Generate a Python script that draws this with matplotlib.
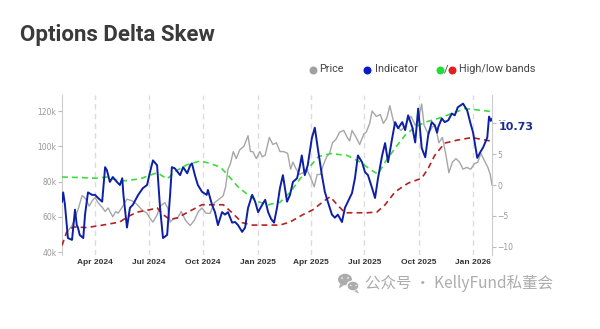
import pandas as pd
import matplotlib
matplotlib.use("Agg")
import matplotlib.pyplot as plt
import matplotlib.dates as mdates
from matplotlib.patches import Ellipse, Polygon
from matplotlib.ticker import FuncFormatter

# BTC price (left axis, USD)
price_dates = [
    "2024-02-15", "2024-02-22", "2024-02-29", "2024-03-04", "2024-03-10", "2024-03-14", "2024-03-18",
    "2024-03-22", "2024-03-27", "2024-04-01", "2024-04-06", "2024-04-14", "2024-04-18", "2024-04-23",
    "2024-05-01", "2024-05-06", "2024-05-10", "2024-05-18", "2024-05-25", "2024-06-03", "2024-06-11",
    "2024-06-19", "2024-06-28", "2024-07-03", "2024-07-08", "2024-07-15", "2024-07-20", "2024-07-28",
    "2024-08-02", "2024-08-06", "2024-08-12", "2024-08-18", "2024-08-25", "2024-09-01", "2024-09-09",
    "2024-09-16", "2024-09-23", "2024-09-29", "2024-10-06", "2024-10-13", "2024-10-20", "2024-10-28",
    "2024-11-04", "2024-11-08", "2024-11-12", "2024-11-16", "2024-11-21", "2024-11-26", "2024-12-02",
    "2024-12-09", "2024-12-16", "2024-12-20", "2024-12-24", "2024-12-30", "2025-01-05", "2025-01-09",
    "2025-01-14", "2025-01-21", "2025-01-27", "2025-02-02", "2025-02-08", "2025-02-14", "2025-02-21",
    "2025-02-26", "2025-03-02", "2025-03-06", "2025-03-13", "2025-03-19", "2025-03-25", "2025-03-31",
    "2025-04-07", "2025-04-12", "2025-04-18", "2025-04-22", "2025-04-28", "2025-05-03", "2025-05-08",
    "2025-05-14", "2025-05-20", "2025-05-27", "2025-06-02", "2025-06-06", "2025-06-10", "2025-06-17",
    "2025-06-23", "2025-06-30", "2025-07-04", "2025-07-10", "2025-07-14", "2025-07-21", "2025-07-28",
    "2025-08-02", "2025-08-08", "2025-08-13", "2025-08-20", "2025-08-26", "2025-09-01", "2025-09-07",
    "2025-09-13", "2025-09-18", "2025-09-25", "2025-09-30", "2025-10-06", "2025-10-10", "2025-10-17",
    "2025-10-24", "2025-10-29", "2025-11-04", "2025-11-10", "2025-11-16", "2025-11-21", "2025-11-27",
    "2025-12-03", "2025-12-09", "2025-12-15", "2025-12-21", "2025-12-28", "2026-01-03", "2026-01-09",
    "2026-01-14", "2026-01-20", "2026-01-26", "2026-01-30", "2026-02-02",
]
price_values = [
    52000, 55000, 61000, 65000, 72000, 71000, 69000,
    66000, 69000, 71000, 68000, 65000, 63000, 65000,
    60000, 63000, 62000, 66000, 70000, 69000, 67000,
    64000, 62000, 59000, 57000, 61000, 66000, 68000,
    65000, 57000, 59000, 59000, 63000, 58000, 55000,
    58000, 63000, 65000, 62000, 62000, 68000, 70000,
    72000, 77000, 87000, 90000, 97000, 93000, 98000,
    100000, 106000, 97000, 97000, 93000, 97000, 94000,
    95000, 105000, 101000, 102000, 97000, 97000, 96000,
    87000, 91000, 88000, 84000, 85000, 87000, 83000,
    77000, 84000, 84000, 89000, 94000, 96000, 102000,
    104000, 108000, 109000, 105000, 103000, 109000, 105000,
    101000, 107000, 108000, 113000, 120000, 117000, 118000,
    113000, 116000, 123000, 113000, 111000, 109000, 111000,
    115000, 117000, 112000, 114000, 124000, 112000, 107000,
    111000, 112000, 102000, 105000, 95000, 85000, 91000,
    93000, 91000, 87000, 88000, 87000, 90000, 91000,
    96000, 92000, 88000, 84000, 78000,
]

# delta skew indicator (right axis)
indicator_dates = [
    "2024-02-05", "2024-02-07", "2024-02-10", "2024-02-15", "2024-02-22", "2024-02-27", "2024-03-01",
    "2024-03-03", "2024-03-06", "2024-03-12", "2024-03-15", "2024-03-20", "2024-03-27", "2024-04-01",
    "2024-04-06", "2024-04-13", "2024-04-18", "2024-04-21", "2024-04-26", "2024-05-01", "2024-05-08",
    "2024-05-13", "2024-05-17", "2024-05-19", "2024-05-25", "2024-05-30", "2024-06-04", "2024-06-13",
    "2024-06-21", "2024-06-28", "2024-07-03", "2024-07-08", "2024-07-15", "2024-07-20", "2024-07-25",
    "2024-08-01", "2024-08-06", "2024-08-09", "2024-08-14", "2024-08-23", "2024-08-28", "2024-09-04",
    "2024-09-09", "2024-09-12", "2024-09-17", "2024-09-22", "2024-09-29", "2024-10-07", "2024-10-09",
    "2024-10-16", "2024-10-21", "2024-10-26", "2024-11-02", "2024-11-07", "2024-11-12", "2024-11-19",
    "2024-11-24", "2024-11-29", "2024-12-06", "2024-12-11", "2024-12-16", "2024-12-23", "2024-12-28",
    "2025-01-02", "2025-01-09", "2025-01-14", "2025-01-19", "2025-01-24", "2025-01-29", "2025-02-03",
    "2025-02-08", "2025-02-13", "2025-02-20", "2025-02-25", "2025-03-02", "2025-03-09", "2025-03-14",
    "2025-03-17", "2025-03-22", "2025-03-27", "2025-04-03", "2025-04-08", "2025-04-13", "2025-04-20",
    "2025-04-25", "2025-04-30", "2025-05-07", "2025-05-12", "2025-05-17", "2025-05-24", "2025-05-29",
    "2025-06-03", "2025-06-10", "2025-06-15", "2025-06-20", "2025-06-27", "2025-07-02", "2025-07-07",
    "2025-07-14", "2025-07-19", "2025-07-24", "2025-07-31", "2025-08-05", "2025-08-10", "2025-08-17",
    "2025-08-22", "2025-08-27", "2025-09-03", "2025-09-08", "2025-09-13", "2025-09-20", "2025-09-25",
    "2025-09-30", "2025-10-06", "2025-10-12", "2025-10-17", "2025-10-23", "2025-10-28", "2025-11-01",
    "2025-11-03", "2025-11-09", "2025-11-14", "2025-11-20", "2025-11-26", "2025-12-01", "2025-12-06",
    "2025-12-15", "2025-12-22", "2025-12-27", "2026-01-01", "2026-01-08", "2026-01-13", "2026-01-18",
    "2026-01-25", "2026-01-28", "2026-01-31", "2026-02-02",
]
indicator_values = [
    -2.7, -1.2, -3.2, -8.6, -8.9, -4.0, -6.5,
    -6.9, -8.1, -8.6, -4.8, -1.2, -1.6, -1.6,
    -2.1, -2.7, 2.9, 2.4, 0.5, 1.3, 0.5,
    0.0, 1.1, -1.6, -6.9, -3.7, -3.2, -1.6,
    -0.5, 0.0, 2.1, 4.0, 3.2, -3.7, -8.6,
    -8.1, -1.6, 2.9, 2.7, 1.6, 2.9, 1.9,
    3.2, 3.5, 1.6, 0.0, -1.1, -1.6, -0.8,
    -3.2, -4.4, -6.5, -4.4, -4.8, -4.4, -6.1,
    -6.0, -6.5, -7.6, -6.9, -3.7, -1.6, -2.7,
    -4.4, -3.2, -2.4, -4.4, -5.5, -6.1, -3.7,
    -0.5, 1.6, -2.7, -1.6, 0.5, 1.1, 3.2,
    4.8, 1.6, 3.2, 7.6, 9.3, 6.0, 1.6,
    -1.1, -2.7, -4.8, -5.3, -4.8, -6.0, -3.7,
    -2.7, -1.3, 1.1, 4.8, 3.7, 2.1, 1.6,
    -0.5, -2.1, 1.1, 4.8, 6.8, 3.7, 7.6,
    10.2, 9.2, 10.2, 8.9, 11.3, 9.4, 6.9,
    12.4, 6.0, 4.5, 8.1, 10.2, 9.7, 8.5,
    9.4, 10.8, 10.2, 10.5, 11.6, 11.3, 12.6,
    13.2, 12.1, 10.2, 8.5, 4.4, 5.3, 6.1,
    7.7, 11.1, 10.4, 10.73,
]

# upper band
high_dates = [
    "2024-02-05", "2024-03-10", "2024-04-04", "2024-04-21", "2024-05-13", "2024-06-16", "2024-07-15",
    "2024-08-01", "2024-08-18", "2024-09-04", "2024-09-26", "2024-10-13", "2024-10-30", "2024-11-12",
    "2024-11-29", "2024-12-16", "2025-01-02", "2025-01-19", "2025-02-08", "2025-02-25", "2025-03-14",
    "2025-03-31", "2025-04-14", "2025-05-05", "2025-06-02", "2025-06-24", "2025-07-16", "2025-07-24",
    "2025-08-05", "2025-08-22", "2025-09-08", "2025-09-25", "2025-10-12", "2025-11-03", "2025-11-26",
    "2025-12-18", "2026-01-16", "2026-02-02",
]
high_values = [
    1.3, 1.2, 1.1, 1.3, 0.6, 1.0, 2.0,
    1.0, 2.4, 3.3, 3.9, 3.5, 2.9, 1.6,
    -0.3, -1.6, -2.7, -3.2, -2.8, -1.2, 1.0,
    3.0, 4.6, 5.1, 4.8, 3.7, 2.2, 1.8,
    3.7, 6.0, 8.1, 9.4, 10.2, 10.8, 11.6,
    12.4, 12.1, 11.9,
]

# lower band
low_dates = [
    "2024-02-05", "2024-02-13", "2024-02-24", "2024-03-18", "2024-04-14", "2024-05-13", "2024-05-25",
    "2024-06-11", "2024-07-03", "2024-07-15", "2024-07-25", "2024-08-06", "2024-08-19", "2024-09-05",
    "2024-09-29", "2024-10-16", "2024-11-04", "2024-11-19", "2024-12-06", "2024-12-23", "2025-01-14",
    "2025-02-08", "2025-02-25", "2025-03-19", "2025-04-05", "2025-04-22", "2025-05-04", "2025-05-16",
    "2025-05-29", "2025-06-18", "2025-07-05", "2025-07-22", "2025-08-05", "2025-08-22", "2025-09-13",
    "2025-10-06", "2025-10-17", "2025-10-28", "2025-11-14", "2025-12-06", "2025-12-30", "2026-01-21",
    "2026-02-02",
]
low_values = [
    -9.8, -7.6, -6.8, -6.9, -6.5, -6.0, -5.2,
    -4.4, -4.0, -3.7, -4.8, -5.6, -5.3, -4.4,
    -3.2, -3.2, -3.2, -4.5, -6.1, -6.5, -6.5,
    -6.5, -6.0, -4.8, -4.0, -2.7, -1.9, -3.2,
    -4.5, -4.5, -4.5, -4.4, -3.2, -1.1, 0.3,
    1.1, 2.7, 4.8, 6.8, 7.3, 7.7, 7.3,
    7.1,
]

GRAY = "#a6a6a6"
BLUE = "#0d1fa5"
GREEN = "#3ddc3d"
RED = "#b5211f"

fig = plt.figure(figsize=(6, 3.29), dpi=100)
fig.patch.set_facecolor("white")

ax = fig.add_axes([62 / 600, 1 - 255 / 329, 430 / 600, 160 / 329])
ax2 = ax.twinx()

ax.plot(pd.to_datetime(price_dates), price_values, color=GRAY, lw=1.0)

ax2.plot(pd.to_datetime(high_dates), high_values, color=GREEN, lw=1.2, dashes=(3.5, 2.5))
ax2.plot(pd.to_datetime(low_dates), low_values, color=RED, lw=1.2, dashes=(3.5, 2.5))
ind_x = pd.to_datetime(indicator_dates)
ax2.plot(ind_x, indicator_values, color=BLUE, lw=1.4)

ax.set_xlim(pd.Timestamp("2024-02-05"), pd.Timestamp("2026-02-02"))
ax.set_ylim(38300, 129100)
ax2.set_ylim(-11.35, 14.6)
ax.set_yticks([40000, 60000, 80000, 100000, 120000])
ax.yaxis.set_major_formatter(FuncFormatter(lambda v, p: f"{int(v / 1000)}k"))
ax2.set_yticks([-10, -5, 0, 5, 10])

ax.xaxis.set_major_locator(mdates.MonthLocator(bymonth=[1, 4, 7, 10]))
ax.xaxis.set_major_formatter(mdates.DateFormatter("%b %Y"))
ax.xaxis.grid(True, color="#dcdcdc", lw=1, linestyle=(0, (4, 3)))

for a in (ax, ax2):
    for s in a.spines.values():
        s.set_visible(False)
ax.spines["left"].set_visible(True)
ax.spines["left"].set_color("#cccccc")
ax2.spines["right"].set_visible(True)
ax2.spines["right"].set_color("#cccccc")

ax.tick_params(axis="y", length=3, color="#bbbbbb", labelsize=5.5, labelcolor="#999999", pad=1)
ax2.tick_params(axis="y", length=3, color="#bbbbbb", labelsize=5.5, labelcolor="#999999", pad=1)
ax.tick_params(axis="x", length=0, pad=3)
for lbl in ax.get_xticklabels():
    lbl.set_fontfamily("Liberation Sans")
    lbl.set_fontweight("bold")
    lbl.set_fontsize(6)
    lbl.set_color("#333333")

# last value tag sits just below the line end, partly over the "10" tick
ax2.annotate(f"{indicator_values[-1]:.2f}", xy=(ind_x[-1], indicator_values[-1]),
             xytext=(5, -5.6), textcoords="offset points", ha="left", va="center",
             fontsize=8, fontweight="bold", color="#1b2a8f", family="DejaVu Sans",
             annotation_clip=False,
             bbox=dict(boxstyle="square,pad=0.05", fc="white", ec="none"))

# header, legend and footer drawn in pixel space
deco = fig.add_axes([0, 0, 1, 1])
deco.set_xlim(0, 600)
deco.set_ylim(329, 0)
deco.axis("off")
deco.patch.set_alpha(0)

deco.text(20, 35, "Options Delta Skew", fontsize=16, fontweight="bold",
          color="#3a3a3a", family="Roboto", va="center", ha="left")

legend_font = dict(fontsize=7.8, color="#444444", family="Roboto", va="center", ha="left")
deco.scatter([313], [69.5], s=33, color="#a0a0a0", lw=0)
deco.text(319, 69.5, "Price", **legend_font)
deco.scatter([367], [69.5], s=33, color="#0a1bc4", lw=0)
deco.text(375, 69.5, "Indicator", **legend_font)
deco.scatter([440], [69.5], s=33, color="#22dd33", lw=0)
deco.text(446, 69.5, "/", fontsize=7.8, color="#444444", family="Roboto", va="center", ha="center")
deco.scatter([452], [69.5], s=33, color="#e02020", lw=0)
deco.text(459, 69.5, "High/low bands", **legend_font)

# chat-bubble icon and account name
wm = "#acacac"
deco.add_patch(Ellipse((345, 279.5), 14, 11.5, color=wm, lw=0))
deco.add_patch(Polygon([(340, 284), (339, 288.5), (344, 285)], color=wm, lw=0))
deco.add_patch(Ellipse((353, 286), 12, 10, facecolor=wm, edgecolor="white", lw=1))
deco.add_patch(Polygon([(357, 290), (359, 293.5), (354, 291)], color=wm, lw=0))
for ex, ey, r in [(342, 278, 1.6), (348, 278, 1.6), (351, 285.5, 1.3), (356, 285.5, 1.3)]:
    deco.add_patch(Ellipse((ex, ey), r, r, color="white", lw=0))
deco.text(365, 283, "公众号 · KellyFund私董会", fontsize=11.2, color=wm,
          family=["Noto Sans CJK SC", "DejaVu Sans"], va="center", ha="left")

fig.savefig("out.png", dpi=100)
